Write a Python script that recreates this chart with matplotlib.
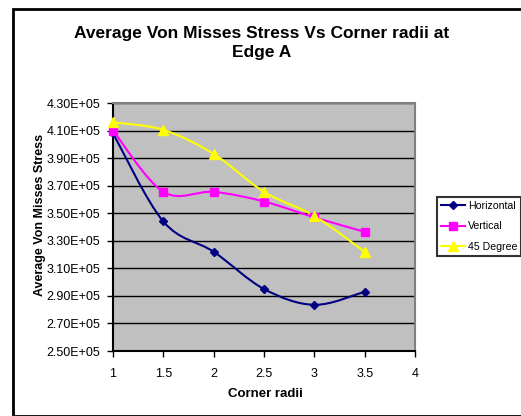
import numpy as np
import matplotlib
matplotlib.use("Agg")
import matplotlib.pyplot as plt
from matplotlib.path import Path
from matplotlib.patches import PathPatch, Rectangle
from matplotlib.lines import Line2D

plt.rcParams['font.family'] = ['Liberation Sans', 'DejaVu Sans']

# corner radii and average stress for each edge direction
radii = [1, 1.5, 2, 2.5, 3, 3.5]
horizontal = [4.08e5, 3.44e5, 3.22e5, 2.95e5, 2.835e5, 2.93e5]
vertical = [4.10e5, 3.655e5, 3.655e5, 3.585e5, 3.47e5, 3.365e5]
deg45 = [4.16e5, 4.105e5, 3.93e5, 3.655e5, 3.48e5, 3.22e5]
series_names = ['Horizontal', 'Vertical', '45 Degree']

yticks = np.arange(2.5e5, 4.31e5, 0.2e5)
xticks = [1, 1.5, 2, 2.5, 3, 3.5, 4]


def smooth_path(x, y):
    # excel style smoothed line: catmull-rom as cubic bezier
    x = np.asarray(x, float)
    y = np.asarray(y, float)
    n = len(x)
    verts = [(x[0], y[0])]
    codes = [Path.MOVETO]
    for i in range(n - 1):
        i0 = max(i - 1, 0)
        i3 = min(i + 2, n - 1)
        c1 = (x[i] + (x[i + 1] - x[i0]) / 6, y[i] + (y[i + 1] - y[i0]) / 6)
        c2 = (x[i + 1] - (x[i3] - x[i]) / 6, y[i + 1] - (y[i3] - y[i]) / 6)
        verts += [c1, c2, (x[i + 1], y[i + 1])]
        codes += [Path.CURVE4] * 3
    return Path(verts, codes)


fig = plt.figure(figsize=(5.21, 4.16), dpi=100)
# outer chart frame
fig.patches.append(Rectangle((13 / 521, 0.0), 1.0, 1 - 9 / 416, transform=fig.transFigure,
                             fill=False, edgecolor='black', linewidth=2.0))

ax = fig.add_axes([113 / 521, 1 - 351 / 416, 302 / 521, 248 / 416])
ax.set_facecolor('#C0C0C0')

colors = ['#000080', '#FF00FF', '#FFFF00']
markers = ['D', 's', '^']
msizes = [4, 6, 7]
handles = []
for vals, c, m, ms, name in zip([horizontal, vertical, deg45], colors, markers, msizes, series_names):
    ax.add_patch(PathPatch(smooth_path(radii, vals), fill=False, edgecolor=c, linewidth=1.5, zorder=3))
    ax.plot(radii, vals, ls='none', marker=m, ms=ms, color=c, zorder=4, clip_on=False)
    handles.append(Line2D([], [], color=c, marker=m, ms=ms, lw=1.5))

ax.set_xlim(1, 4)
ax.set_ylim(2.5e5, 4.3e5)
ax.set_xticks(xticks)
ax.set_xticklabels(['1', '1.5', '2', '2.5', '3', '3.5', '4'], fontsize=9)
ax.set_yticks(yticks)
ax.set_yticklabels(['%.2fE+05' % (v / 1e5) for v in yticks], fontsize=9)
ax.yaxis.grid(True, color='black', linewidth=1.0)
ax.set_axisbelow(True)
ax.tick_params(direction='out', length=4, width=1, color='black', pad=5)
ax.tick_params(axis='x', pad=8)

for s in ['top', 'right']:
    ax.spines[s].set_color('#808080')
    ax.spines[s].set_linewidth(1.5)
for s in ['left', 'bottom']:
    ax.spines[s].set_color('black')
    ax.spines[s].set_linewidth(1.5)

ax.set_xlabel('Corner radii', fontsize=9.5, fontweight='bold')
ax.xaxis.set_label_coords((265 - 113) / 302, -(388 - 351) / 248)
ax.set_ylabel('Average Von Misses Stress', fontsize=9, fontweight='bold')
ax.yaxis.set_label_coords(-(113 - 46) / 302, (351 - 215) / 248)

fig.text(262 / 521, 1 - 43 / 416, 'Average Von Misses Stress Vs Corner radii at\nEdge A',
         ha='center', va='center', fontsize=12.5, fontweight='bold', linespacing=1.3)

leg = fig.legend(handles, series_names, loc='upper left', bbox_to_anchor=(437 / 521, 1 - 197 / 416),
                 fontsize=7.6, frameon=True, fancybox=False, handlelength=2.3, handletextpad=0.3,
                 borderpad=0.35, labelspacing=1.0, borderaxespad=0)
leg.get_frame().set_edgecolor('black')
leg.get_frame().set_linewidth(1.5)

fig.savefig('out.png', dpi=100)
